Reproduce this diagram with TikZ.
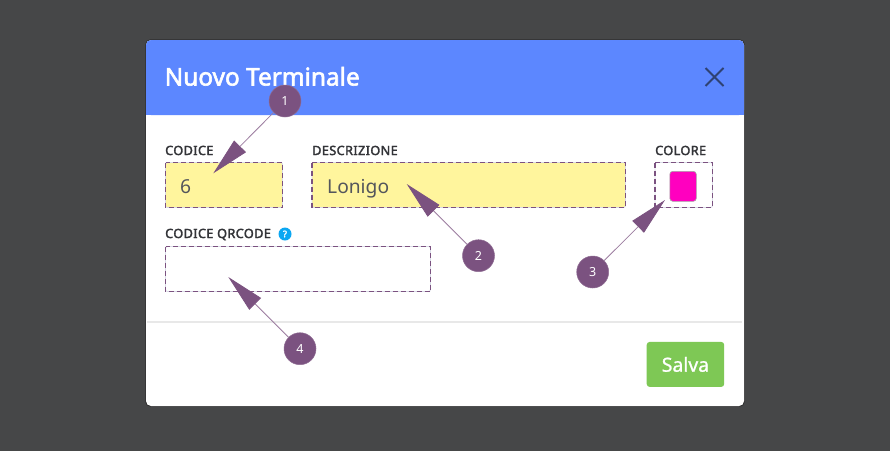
\documentclass[tikz,border=0pt]{standalone}
\usepackage{fontspec}
\setmainfont{Noto Sans}
\newfontfamily\medfont[FakeBold=2.4]{Noto Sans}
\newfontfamily\labfont[FakeBold=2.4,LetterSpace=3]{Noto Sans}
\newfontfamily\valfont[FakeBold=1]{Noto Sans}
\usetikzlibrary{arrows.meta,calc}
\definecolor{bgdark}{HTML}{464748}
\definecolor{headblue}{HTML}{5C87FF}
\definecolor{fieldyellow}{HTML}{FFF59D}
\definecolor{callout}{HTML}{7B5280}
\definecolor{fieldedge}{HTML}{D8DAE6}
\definecolor{divline}{HTML}{E8E8E8}
\definecolor{labeltxt}{HTML}{333438}
\definecolor{valuetxt}{HTML}{54565C}
\definecolor{closex}{HTML}{2F4272}
\definecolor{salvagreen}{HTML}{7EC855}
\definecolor{helpblue}{HTML}{0BA7F2}
\definecolor{swatch}{HTML}{FF00BF}
\definecolor{modaledge}{HTML}{2E2E2E}
\tikzset{
  x=1pt,y=-1pt,
  fieldbox/.style={draw=fieldedge,line width=0.8pt,rounded corners=2pt,anchor=north west,inner sep=0pt,outer sep=0pt},
  dashframe/.style={draw=callout,line width=1.5pt,dash pattern=on 5pt off 3pt},
  flabel/.style={font=\labfont\fontsize{12.7}{14}\selectfont,text=labeltxt,anchor=base west,inner sep=0pt},
  fvalue/.style={font=\fontsize{19.2}{22}\selectfont,text=valuetxt,anchor=base west,inner sep=0pt},
  badge/.style={circle,fill=callout,draw=callout!85!white,line width=0.5pt,minimum size=32pt,inner sep=0pt,text=white,font=\fontsize{12.5}{14}\selectfont},
  pointer/.style={draw=callout!75!white,line width=0.8pt,-{Triangle[length=38pt,width=16.5pt,fill=callout,color=callout]}},
}
\begin{document}
\begin{tikzpicture}
\useasboundingbox (0,0) rectangle (890,451);
\fill[bgdark] (0,0) rectangle (890,451);
% modal
\fill[modaledge,rounded corners=5pt] (145.3,39.3) rectangle (744.7,406.7);
\fill[white,rounded corners=5pt] (146,40) rectangle (744,406);
\fill[headblue,rounded corners=5pt] (146,115) -- (146,40) -- (744,40) -- (744,115) -- cycle;
\fill[headblue] (146,60) rectangle (744,115);
\node[anchor=base west,inner sep=0pt,text=white,font=\medfont\fontsize{24.4}{28}\selectfont] (title) at (164.5,85.5) {Nuovo Terminale};
\coordinate (xa) at (705.5,68);
\coordinate (xb) at (723.5,86);
\coordinate (xc) at (723.5,68);
\coordinate (xd) at (705.5,86);
\draw[closex,line width=1.9pt] (xa) -- (xb) (xc) -- (xd);
% divider
\coordinate (dl) at (147,322);
\coordinate (dr) at (742,322);
\draw[divline,line width=1.5pt] (dl) -- (dr);
% labels
\node[flabel] (l1) at (165,155) {CODICE};
\node[flabel] (l2) at (312,155) {DESCRIZIONE};
\node[flabel] (l3) at (655,155) {COLORE};
\node[flabel] (l4) at (165,238) {CODICE QRCODE};
\node[circle,fill=helpblue,minimum size=13pt,inner sep=0pt,text=white,font=\medfont\fontsize{9}{10}\selectfont] (help) at (285,234) {?};
% fields
\node[fieldbox,fill=fieldyellow,minimum width=117pt,minimum height=45pt] (f1) at (165.5,162.5) {};
\node[fieldbox,fill=fieldyellow,minimum width=313.5pt,minimum height=45pt] (f2) at (312,162.5) {};
\node[fieldbox,fill=white,minimum width=57.5pt,minimum height=45pt] (f3) at (655,162.5) {};
\node[fieldbox,fill=white,minimum width=265pt,minimum height=45pt] (f4) at (165.5,246.5) {};
\draw[dashframe] (f1.north west) rectangle (f1.south east);
\draw[dashframe] (f2.north west) rectangle (f2.south east);
\draw[dashframe] (f3.north west) rectangle (f3.south east);
\draw[dashframe] (f4.north west) rectangle (f4.south east);
\node[fvalue] (v1) at (180,193.5) {6};
\node[fvalue] (v2) at (327,193.5) {Lonigo};
\node[anchor=north west,fill=swatch,draw=black!35,line width=0.6pt,rounded corners=3pt,minimum width=26.5pt,minimum height=30pt,inner sep=0pt] (sw) at (669.5,171) {};
% button
\node[anchor=north west,fill=salvagreen,rounded corners=3pt,minimum width=77.5pt,minimum height=45pt,inner sep=0pt,text=white,font=\valfont\fontsize{19.4}{22}\selectfont] (save) at (646.5,341.7) {Salva};
% callouts
\node[badge] (c1) at (285,101) {1};
\node[badge] (c2) at (478.5,255.7) {2};
\node[badge] (c3) at (592.7,272) {3};
\node[badge] (c4) at (300,348.7) {4};
\coordinate (t1) at (213.3,173.3);
\coordinate (t2) at (406.7,184);
\coordinate (t3) at (665,200);
\coordinate (t4) at (228.3,277);
\draw[pointer] (c1) -- (t1);
\draw[pointer] (c2) -- (t2);
\draw[pointer] (c3) -- (t3);
\draw[pointer] (c4) -- (t4);
\end{tikzpicture}
\end{document}
